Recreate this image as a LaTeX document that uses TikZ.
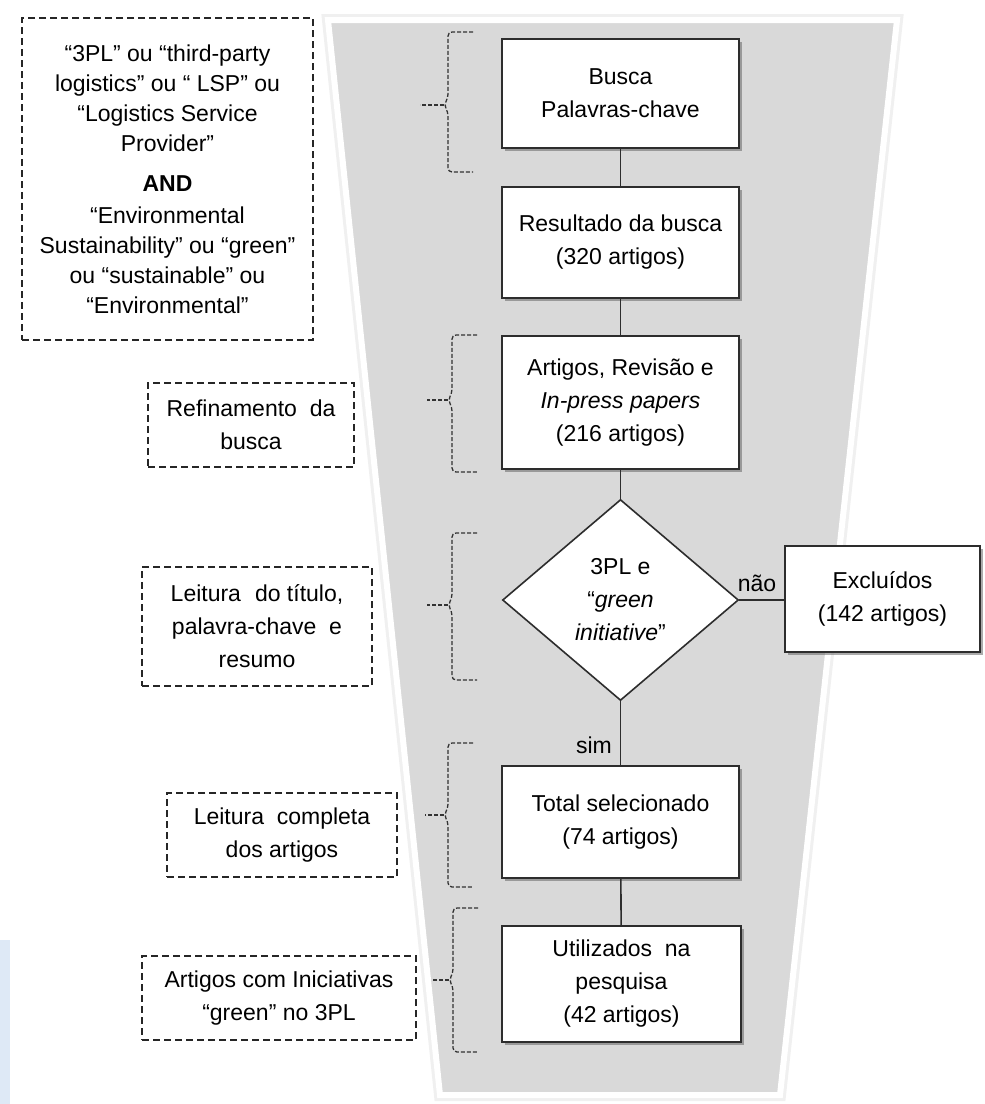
\documentclass[tikz,border=0pt]{standalone}
\usepackage{fontspec}
\setmainfont{Liberation Sans}
\usetikzlibrary{shapes.geometric,shadows}
\definecolor{funnelgray}{RGB}{217,217,217}
\definecolor{boxline}{RGB}{45,45,45}
\definecolor{wmblue}{RGB}{222,233,246}
\newcommand\dbrace[5]{%
  \draw[bracestyle] (#1+25,#2) -- (#1,#2) -- (#1,#3-7) -- (#1-4,#3) -- (#1,#3+7) -- (#1,#4) -- (#1+25,#4);
  \draw[bracestyle,rounded corners=0pt] (#1-4,#3) -- (#5,#3);}
\begin{document}
\begin{tikzpicture}[x=1pt,y=-1pt,
  every node/.style={font=\fontsize{23}{33}\selectfont, text=black},
  flowbox/.style={draw=boxline, line width=1.6pt, fill=white, align=center, inner sep=0pt,
    drop shadow={shadow xshift=3pt, shadow yshift=-3pt, fill=black!60, opacity=0.55}},
  notebox/.style={draw=black!85, line width=1.5pt, dash pattern=on 7pt off 4pt, align=center, inner sep=0pt},
  bracestyle/.style={draw=black!80, line width=1.3pt, dash pattern=on 4pt off 2pt, rounded corners=4pt},
  link/.style={draw=boxline, line width=1.6pt}]
\useasboundingbox (0,0) rectangle (985,1104);
\fill[white] (0,0) rectangle (985,1104);
\fill[wmblue] (0,940) rectangle (10,1104);
% funnel
\draw[line width=12pt, black!6, line join=miter] (328,20) -- (897,20) -- (780,1095) -- (440,1095) -- cycle;
\filldraw[fill=funnelgray, draw=white, line width=6pt, line join=miter] (328,20) -- (897,20) -- (780,1095) -- (440,1095) -- cycle;
% left notes
\node[notebox, minimum width=291pt, minimum height=322pt, font=\fontsize{23}{30}\selectfont] (na) at (167.5,179) {“3PL” ou “third-party\\logistics” ou “ LSP” ou\\“Logistics Service\\Provider”\\[10pt]\textbf{AND}\\[2pt]“Environmental\\Sustainability” ou “green”\\ou “sustainable” ou\\“Environmental”};
\node[notebox, minimum width=206pt, minimum height=84pt] (nb) at (251,425) {Refinamento\ \ da\\busca};
\node[notebox, minimum width=230pt, minimum height=119pt] (nc) at (257,626.5) {Leitura\hspace{14pt}do título,\\palavra-chave\ \ e\\resumo};
\node[notebox, minimum width=230pt, minimum height=84pt] (nd) at (282,835) {Leitura\ \ completa\\dos artigos};
\node[notebox, minimum width=274pt, minimum height=84pt] (ne) at (279,998) {Artigos com Iniciativas\\“green” no 3PL};
% braces
\dbrace{448}{32}{105}{172}{420}
\dbrace{452}{335}{400}{472}{427}
\dbrace{452}{533}{605}{680}{427}
\dbrace{448}{743}{815}{887}{425}
\dbrace{453}{908}{980}{1052}{433}
% flow
\node[flowbox, minimum width=237pt, minimum height=109pt] (b1) at (620.5,93.5) {Busca\\Palavras-chave};
\node[flowbox, minimum width=237pt, minimum height=111pt] (b2) at (620.5,242.5) {Resultado da busca\\(320 artigos)};
\node[flowbox, minimum width=237pt, minimum height=133pt] (b3) at (620.5,402.5) {Artigos, Revisão e\\\textit{In-press papers}\\(216 artigos)};
\node[diamond, draw=boxline, line width=1.6pt, fill=white, minimum width=236pt, minimum height=201pt, aspect=1.17, inner sep=0pt, align=center] (d) at (620.5,600) {3PL e\\“\textit{green}\\\textit{initiative}”};
\node[flowbox, minimum width=195pt, minimum height=106pt] (ex) at (882.5,599) {Excluídos\\(142 artigos)};
\node[flowbox, minimum width=237pt, minimum height=112pt] (b5) at (620.5,822) {Total selecionado\\(74 artigos)};
\node[flowbox, minimum width=239pt, minimum height=116pt] (b6) at (621.5,984) {Utilizados\ \ na\\pesquisa\\(42 artigos)};
\draw[link] (b1) -- (b2);
\draw[link] (b2) -- (b3);
\draw[link] (b3) -- (d);
\draw[link] (d) -- (b5);
\draw[link] (b5) -- (b6);
\draw[link] (d.east) -- (d.east -| ex.west);
\node[anchor=south] (nao) at (757,595) {não};
\node (sim) at (594,745) {sim};
\end{tikzpicture}
\end{document}
